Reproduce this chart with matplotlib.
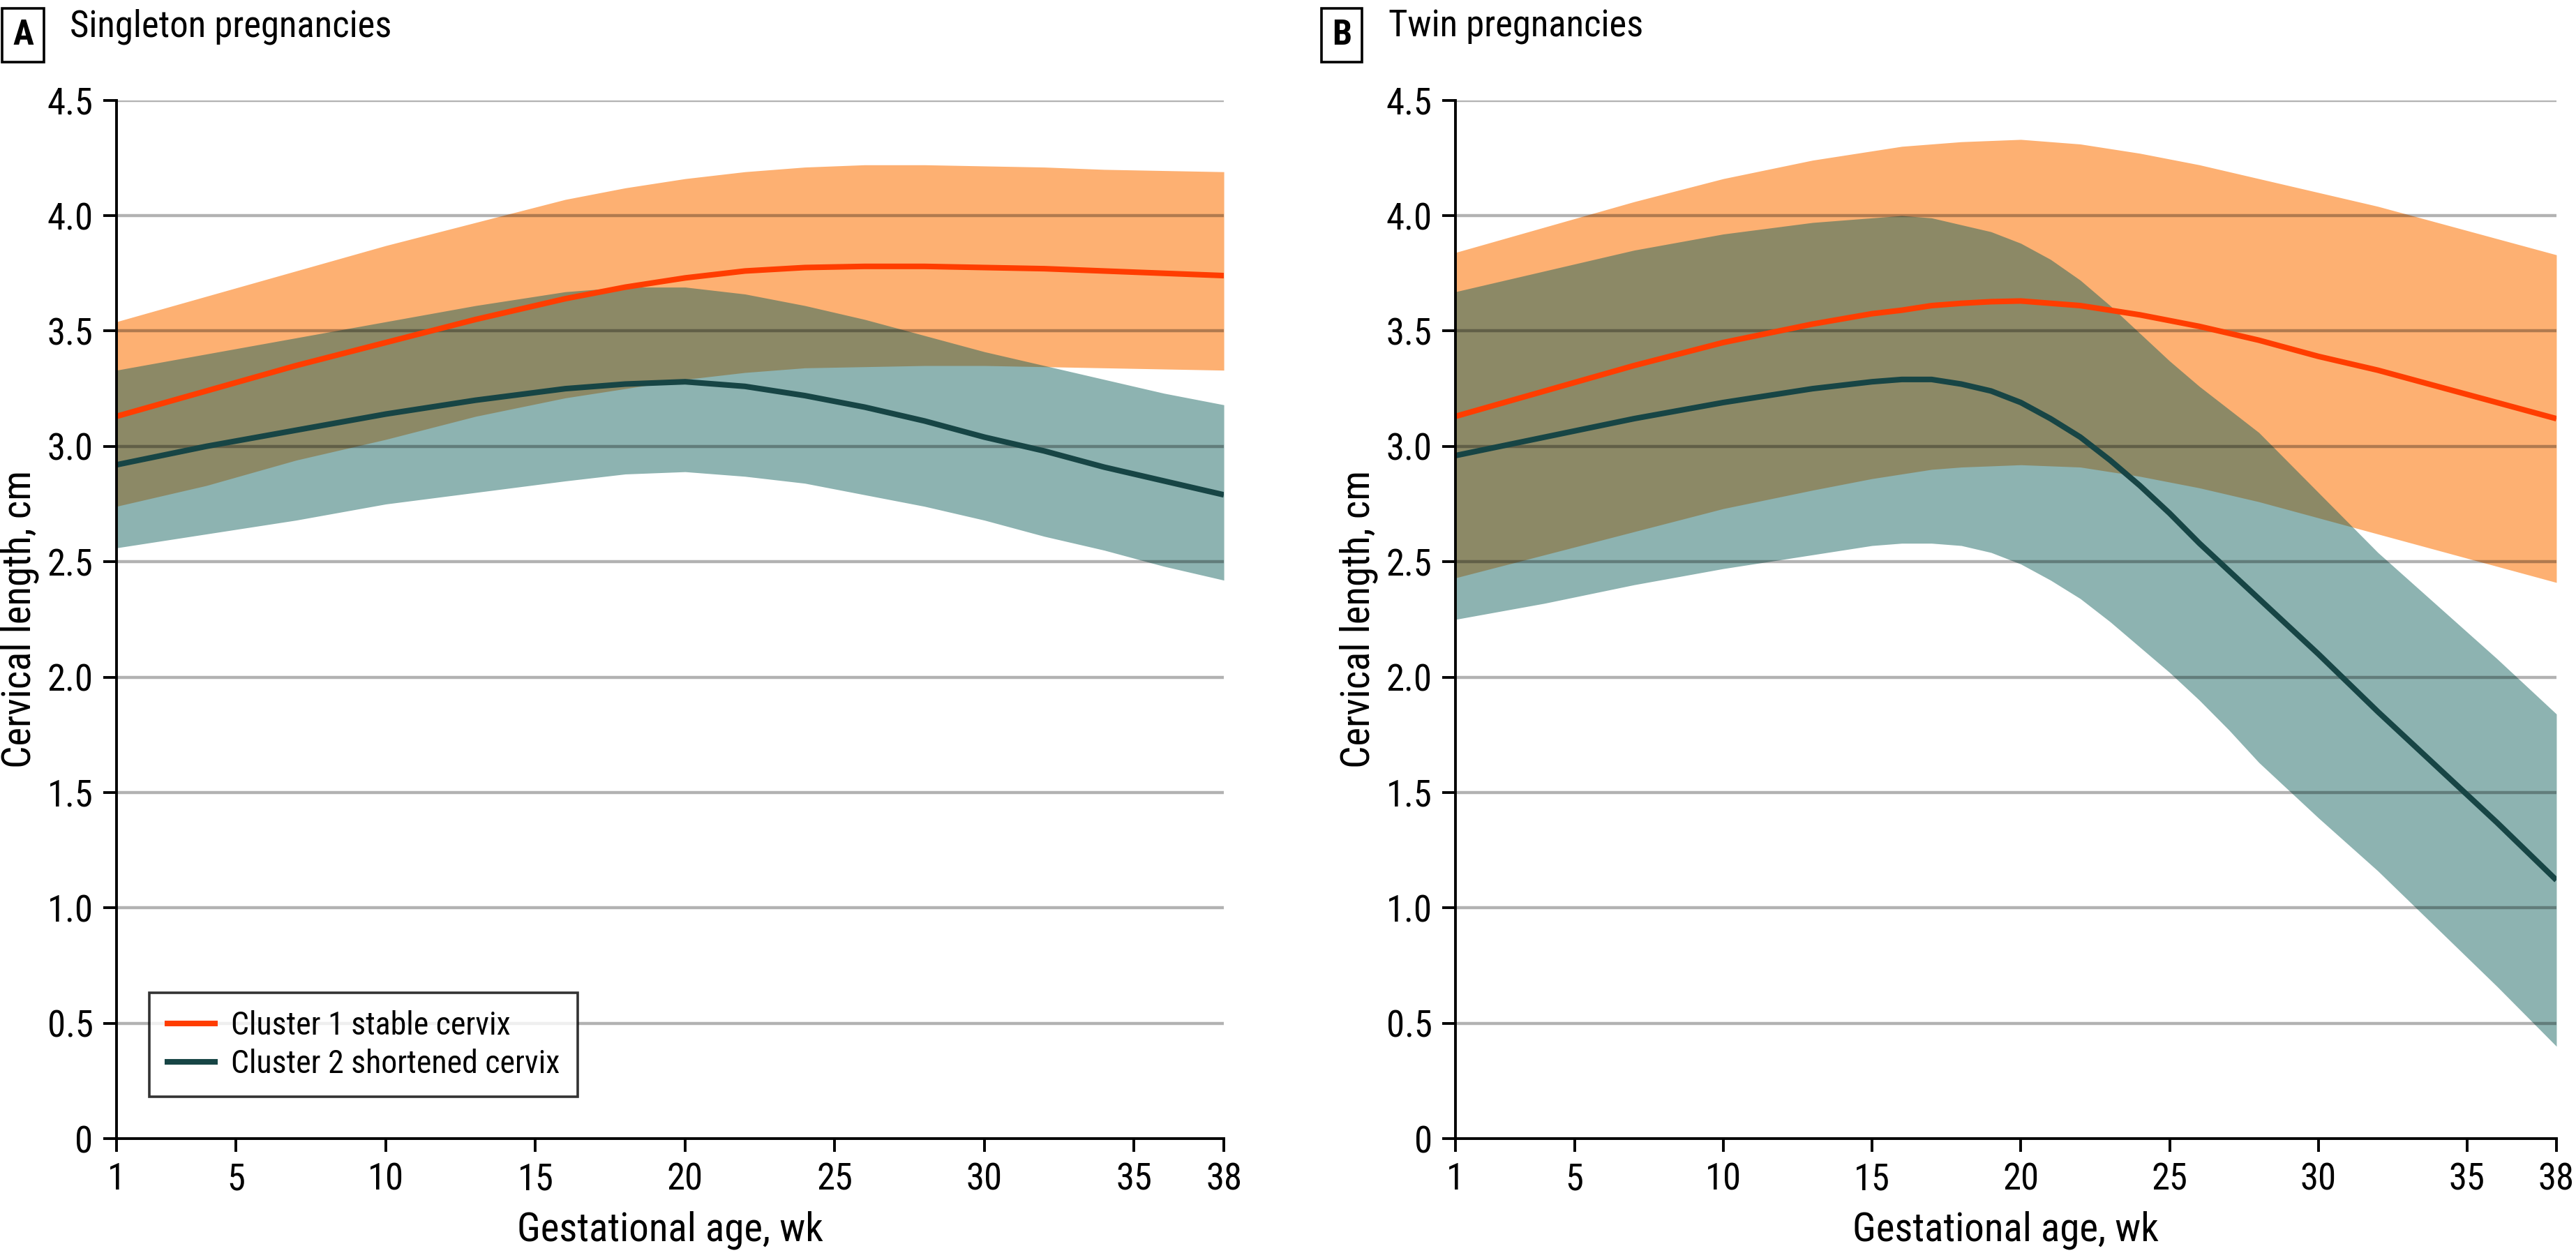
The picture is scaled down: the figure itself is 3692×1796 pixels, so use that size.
import numpy as np
import matplotlib
matplotlib.use("Agg")
import matplotlib.pyplot as plt
from matplotlib.lines import Line2D
from matplotlib import font_manager as fm

# pick a condensed font if one is installed
_entries = fm.fontManager.ttflist
_chosen = None
_stretch = 'normal'
for cand in ['Liberation Sans Narrow', 'Roboto Condensed', 'Open Sans Condensed',
             'Noto Sans Condensed', 'DejaVu Sans Condensed']:
    if any(e.name == cand for e in _entries):
        _chosen = cand
        break
if _chosen is None:
    for e in _entries:
        if str(e.stretch) in ('condensed', 'semi-condensed', 'extra-condensed', '75', '87.5') or \
           (isinstance(e.stretch, (int, float)) and e.stretch < 500):
            if e.name in ('DejaVu Sans', 'Noto Sans', 'Open Sans', 'Roboto', 'Liberation Sans'):
                _chosen = e.name
                _stretch = 'condensed'
                break
if _chosen is None:
    _chosen = 'Roboto'
plt.rcParams['font.family'] = [_chosen, 'DejaVu Sans']
plt.rcParams['font.stretch'] = _stretch
NARROW = _chosen != 'Roboto'

# ---------------- data ----------------
S_WEEKS = [1, 4, 7, 10, 13, 16, 18, 20, 22, 24, 26, 28, 30, 32, 34, 36, 38]
S_C1_MEAN = [3.13, 3.24, 3.35, 3.45, 3.55, 3.64, 3.69, 3.73, 3.76, 3.775, 3.78, 3.78, 3.775, 3.77, 3.76, 3.75, 3.74]
S_C1_UP = [3.54, 3.65, 3.76, 3.87, 3.97, 4.07, 4.12, 4.16, 4.19, 4.21, 4.22, 4.22, 4.215, 4.21, 4.20, 4.195, 4.19]
S_C1_LO = [2.74, 2.83, 2.94, 3.03, 3.13, 3.21, 3.25, 3.29, 3.32, 3.34, 3.345, 3.35, 3.35, 3.345, 3.34, 3.335, 3.33]
S_C2_MEAN = [2.92, 3.00, 3.07, 3.14, 3.20, 3.25, 3.27, 3.28, 3.26, 3.22, 3.17, 3.11, 3.04, 2.98, 2.91, 2.85, 2.79]
S_C2_UP = [3.33, 3.40, 3.47, 3.54, 3.61, 3.67, 3.69, 3.69, 3.66, 3.61, 3.55, 3.48, 3.41, 3.35, 3.29, 3.23, 3.18]
S_C2_LO = [2.56, 2.62, 2.68, 2.75, 2.80, 2.85, 2.88, 2.89, 2.87, 2.84, 2.79, 2.74, 2.68, 2.61, 2.55, 2.48, 2.42]

T_WEEKS = [1, 4, 7, 10, 13, 15, 16, 17, 18, 19, 20, 21, 22, 23, 24, 25, 26, 27, 28, 30, 32, 34, 36, 38]
T_C1_MEAN = [3.13, 3.24, 3.35, 3.45, 3.53, 3.575, 3.59, 3.61, 3.62, 3.627, 3.63, 3.62, 3.61, 3.59, 3.57, 3.545, 3.52, 3.49, 3.46, 3.39, 3.33, 3.26, 3.19, 3.12]
T_C1_UP = [3.84, 3.95, 4.06, 4.16, 4.24, 4.28, 4.30, 4.31, 4.32, 4.325, 4.33, 4.32, 4.31, 4.29, 4.27, 4.245, 4.22, 4.19, 4.16, 4.10, 4.04, 3.97, 3.90, 3.83]
T_C1_LO = [2.43, 2.53, 2.63, 2.73, 2.81, 2.86, 2.88, 2.90, 2.91, 2.915, 2.92, 2.915, 2.91, 2.89, 2.87, 2.845, 2.82, 2.79, 2.76, 2.69, 2.62, 2.55, 2.48, 2.41]
T_C2_MEAN = [2.96, 3.04, 3.12, 3.19, 3.25, 3.28, 3.29, 3.29, 3.27, 3.24, 3.19, 3.12, 3.04, 2.94, 2.83, 2.71, 2.58, 2.46, 2.34, 2.10, 1.85, 1.61, 1.37, 1.12]
T_C2_UP = [3.67, 3.76, 3.85, 3.92, 3.97, 3.99, 4.00, 3.99, 3.96, 3.93, 3.88, 3.81, 3.72, 3.61, 3.49, 3.37, 3.26, 3.16, 3.06, 2.80, 2.54, 2.31, 2.08, 1.84]
T_C2_LO = [2.25, 2.32, 2.40, 2.47, 2.53, 2.57, 2.58, 2.58, 2.57, 2.54, 2.49, 2.42, 2.34, 2.24, 2.13, 2.02, 1.90, 1.77, 1.63, 1.39, 1.16, 0.91, 0.66, 0.40]

X_TICKS = [1, 5, 10, 15, 20, 25, 30, 35, 38]
Y_TICKS = [0, 0.5, 1.0, 1.5, 2.0, 2.5, 3.0, 3.5, 4.0, 4.5]
Y_TICKLABELS = ['0', '0.5', '1.0', '1.5', '2.0', '2.5', '3.0', '3.5', '4.0', '4.5']
SERIES_LABELS = ['Cluster 1 stable cervix', 'Cluster 2 shortened cervix']
PANELS = [('A', 'Singleton pregnancies'), ('B', 'Twin pregnancies')]

# ---------------- style ----------------
C1_FILL = '#FDB072'
C2_FILL = '#0D5E59'
C2_ALPHA = 0.47
C1_LINE = '#FF3D00'
C2_LINE = '#174545'
K = 1.0 if NARROW else 0.85
FS_TICK = 19 * K
FS_LABEL = 20.5 * K
FS_TITLE = 19 * K
FS_LEG = 16.5 * K

fig = plt.figure(figsize=(18.46, 8.98), dpi=200)
ax_pos = [[0.0452, 0.0913, 0.4299, 0.8287], [0.5650, 0.0913, 0.4274, 0.8287]]
box_x = [0.005, 0.517]

data = [
    (S_WEEKS, S_C1_MEAN, S_C1_UP, S_C1_LO, S_C2_MEAN, S_C2_UP, S_C2_LO),
    (T_WEEKS, T_C1_MEAN, T_C1_UP, T_C1_LO, T_C2_MEAN, T_C2_UP, T_C2_LO),
]

for i, (pos, d, (letter, title)) in enumerate(zip(ax_pos, data, PANELS)):
    ax = fig.add_axes(pos)
    w, m1, u1, l1, m2, u2, l2 = d
    ax.fill_between(w, l1, u1, color=C1_FILL, lw=0, zorder=1)
    ax.fill_between(w, l2, u2, color=C2_FILL, alpha=C2_ALPHA, lw=0, zorder=2)
    for yv in Y_TICKS[1:]:
        ax.axhline(yv, color='black', alpha=0.3, lw=1.6, zorder=3)
    ax.plot(w, m1, color=C1_LINE, lw=2.9, zorder=4, solid_capstyle='butt')
    ax.plot(w, m2, color=C2_LINE, lw=2.9, zorder=4, solid_capstyle='butt')

    ax.set_xlim(1, 38)
    ax.set_ylim(0, 4.5)
    ax.set_xticks(X_TICKS)
    ax.set_xticklabels([str(x) for x in X_TICKS])
    ax.set_yticks(Y_TICKS)
    ax.set_yticklabels(Y_TICKLABELS)
    for s in ['top', 'right']:
        ax.spines[s].set_visible(False)
    for s in ['left', 'bottom']:
        ax.spines[s].set_linewidth(1.4)
        ax.spines[s].set_zorder(5)
    ax.tick_params(axis='both', direction='out', length=7, width=1.4, labelsize=FS_TICK, pad=5)
    ax.set_xlabel('Gestational age, wk', fontsize=FS_LABEL, labelpad=7)
    ax.set_ylabel('Cervical length, cm', fontsize=FS_LABEL, labelpad=4)

    # panel label
    xl = box_x[i]
    fig.text(xl, 0.985, letter, fontsize=FS_TITLE - 1, fontweight='bold', ha='left', va='top',
             bbox=dict(boxstyle='square,pad=0.3', fc='white', ec='black', lw=1.3))
    fig.text(xl + 0.022, 0.993, title, fontsize=FS_TITLE, ha='left', va='top')

    if i == 0:
        handles = [Line2D([], [], color=C1_LINE, lw=2.9),
                   Line2D([], [], color=C2_LINE, lw=2.9)]
        leg = ax.legend(handles, SERIES_LABELS, loc='lower left', bbox_to_anchor=(0.03, 0.04),
                        borderaxespad=0.0,
                        fontsize=FS_LEG, frameon=True, fancybox=False, edgecolor='black',
                        handlelength=1.5, handletextpad=0.5, borderpad=0.55, labelspacing=0.25)
        leg.get_frame().set_linewidth(1.3)

fig.savefig('out.png', dpi=200, facecolor='white')
